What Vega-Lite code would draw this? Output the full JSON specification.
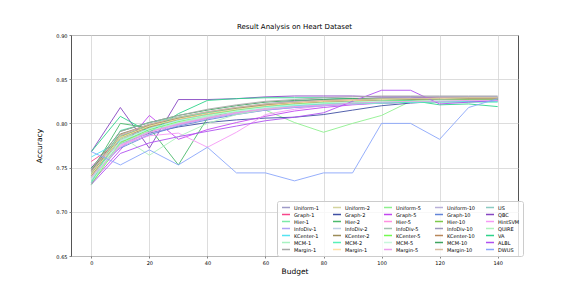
{
"$schema": "https://vega.github.io/schema/vega-lite/v6.json",
"width": 447, "height": 221, "autosize": "none",
"padding": {"left": 71, "top": 35, "right": 58, "bottom": 32},
"background": "white",
"title": {"text": "Result Analysis on Heart Dataset", "fontSize": 7, "font": "DejaVu Sans", "fontWeight": "normal", "offset": 3, "color": "#000"},
"datasets": {"d": [
{"m":"Uniform-1","b":0,"a":0.742},{"m":"Uniform-1","b":10,"a":0.786},{"m":"Uniform-1","b":20,"a":0.797},{"m":"Uniform-1","b":30,"a":0.805},{"m":"Uniform-1","b":40,"a":0.811},{"m":"Uniform-1","b":50,"a":0.816},{"m":"Uniform-1","b":60,"a":0.82},{"m":"Uniform-1","b":70,"a":0.823},{"m":"Uniform-1","b":80,"a":0.825},{"m":"Uniform-1","b":90,"a":0.826},{"m":"Uniform-1","b":100,"a":0.827},{"m":"Uniform-1","b":110,"a":0.828},{"m":"Uniform-1","b":120,"a":0.828},{"m":"Uniform-1","b":130,"a":0.829},{"m":"Uniform-1","b":140,"a":0.829},
{"m":"Uniform-2","b":0,"a":0.739},{"m":"Uniform-2","b":10,"a":0.781},{"m":"Uniform-2","b":20,"a":0.795},{"m":"Uniform-2","b":30,"a":0.803},{"m":"Uniform-2","b":40,"a":0.81},{"m":"Uniform-2","b":50,"a":0.815},{"m":"Uniform-2","b":60,"a":0.819},{"m":"Uniform-2","b":70,"a":0.822},{"m":"Uniform-2","b":80,"a":0.824},{"m":"Uniform-2","b":90,"a":0.825},{"m":"Uniform-2","b":100,"a":0.826},{"m":"Uniform-2","b":110,"a":0.827},{"m":"Uniform-2","b":120,"a":0.827},{"m":"Uniform-2","b":130,"a":0.828},{"m":"Uniform-2","b":140,"a":0.828},
{"m":"Uniform-5","b":0,"a":0.737},{"m":"Uniform-5","b":10,"a":0.783},{"m":"Uniform-5","b":20,"a":0.796},{"m":"Uniform-5","b":30,"a":0.804},{"m":"Uniform-5","b":40,"a":0.809},{"m":"Uniform-5","b":50,"a":0.813},{"m":"Uniform-5","b":60,"a":0.815},{"m":"Uniform-5","b":70,"a":0.801},{"m":"Uniform-5","b":80,"a":0.79},{"m":"Uniform-5","b":90,"a":0.8},{"m":"Uniform-5","b":100,"a":0.809},{"m":"Uniform-5","b":110,"a":0.825},{"m":"Uniform-5","b":120,"a":0.826},{"m":"Uniform-5","b":130,"a":0.826},{"m":"Uniform-5","b":140,"a":0.826},
{"m":"Uniform-10","b":0,"a":0.744},{"m":"Uniform-10","b":10,"a":0.788},{"m":"Uniform-10","b":20,"a":0.799},{"m":"Uniform-10","b":30,"a":0.807},{"m":"Uniform-10","b":40,"a":0.813},{"m":"Uniform-10","b":50,"a":0.818},{"m":"Uniform-10","b":60,"a":0.822},{"m":"Uniform-10","b":70,"a":0.825},{"m":"Uniform-10","b":80,"a":0.827},{"m":"Uniform-10","b":90,"a":0.828},{"m":"Uniform-10","b":100,"a":0.829},{"m":"Uniform-10","b":110,"a":0.829},{"m":"Uniform-10","b":120,"a":0.83},{"m":"Uniform-10","b":130,"a":0.83},{"m":"Uniform-10","b":140,"a":0.83},
{"m":"US","b":0,"a":0.741},{"m":"US","b":10,"a":0.784},{"m":"US","b":20,"a":0.797},{"m":"US","b":30,"a":0.806},{"m":"US","b":40,"a":0.812},{"m":"US","b":50,"a":0.817},{"m":"US","b":60,"a":0.821},{"m":"US","b":70,"a":0.823},{"m":"US","b":80,"a":0.824},{"m":"US","b":90,"a":0.825},{"m":"US","b":100,"a":0.826},{"m":"US","b":110,"a":0.826},{"m":"US","b":120,"a":0.827},{"m":"US","b":130,"a":0.827},{"m":"US","b":140,"a":0.827},
{"m":"Graph-1","b":0,"a":0.757},{"m":"Graph-1","b":10,"a":0.779},{"m":"Graph-1","b":20,"a":0.791},{"m":"Graph-1","b":30,"a":0.799},{"m":"Graph-1","b":40,"a":0.806},{"m":"Graph-1","b":50,"a":0.812},{"m":"Graph-1","b":60,"a":0.816},{"m":"Graph-1","b":70,"a":0.819},{"m":"Graph-1","b":80,"a":0.821},{"m":"Graph-1","b":90,"a":0.822},{"m":"Graph-1","b":100,"a":0.823},{"m":"Graph-1","b":110,"a":0.824},{"m":"Graph-1","b":120,"a":0.825},{"m":"Graph-1","b":130,"a":0.825},{"m":"Graph-1","b":140,"a":0.825},
{"m":"Graph-2","b":0,"a":0.75},{"m":"Graph-2","b":10,"a":0.777},{"m":"Graph-2","b":20,"a":0.789},{"m":"Graph-2","b":30,"a":0.796},{"m":"Graph-2","b":40,"a":0.801},{"m":"Graph-2","b":50,"a":0.804},{"m":"Graph-2","b":60,"a":0.806},{"m":"Graph-2","b":70,"a":0.807},{"m":"Graph-2","b":80,"a":0.81},{"m":"Graph-2","b":90,"a":0.815},{"m":"Graph-2","b":100,"a":0.82},{"m":"Graph-2","b":110,"a":0.823},{"m":"Graph-2","b":120,"a":0.825},{"m":"Graph-2","b":130,"a":0.826},{"m":"Graph-2","b":140,"a":0.827},
{"m":"Graph-5","b":0,"a":0.733},{"m":"Graph-5","b":10,"a":0.77},{"m":"Graph-5","b":20,"a":0.809},{"m":"Graph-5","b":30,"a":0.782},{"m":"Graph-5","b":40,"a":0.793},{"m":"Graph-5","b":50,"a":0.801},{"m":"Graph-5","b":60,"a":0.808},{"m":"Graph-5","b":70,"a":0.814},{"m":"Graph-5","b":80,"a":0.818},{"m":"Graph-5","b":90,"a":0.821},{"m":"Graph-5","b":100,"a":0.823},{"m":"Graph-5","b":110,"a":0.824},{"m":"Graph-5","b":120,"a":0.825},{"m":"Graph-5","b":130,"a":0.825},{"m":"Graph-5","b":140,"a":0.826},
{"m":"Graph-10","b":0,"a":0.748},{"m":"Graph-10","b":10,"a":0.772},{"m":"Graph-10","b":20,"a":0.787},{"m":"Graph-10","b":30,"a":0.797},{"m":"Graph-10","b":40,"a":0.804},{"m":"Graph-10","b":50,"a":0.81},{"m":"Graph-10","b":60,"a":0.815},{"m":"Graph-10","b":70,"a":0.818},{"m":"Graph-10","b":80,"a":0.82},{"m":"Graph-10","b":90,"a":0.822},{"m":"Graph-10","b":100,"a":0.823},{"m":"Graph-10","b":110,"a":0.824},{"m":"Graph-10","b":120,"a":0.825},{"m":"Graph-10","b":130,"a":0.826},{"m":"Graph-10","b":140,"a":0.826},
{"m":"QBC","b":0,"a":0.768},{"m":"QBC","b":10,"a":0.818},{"m":"QBC","b":20,"a":0.772},{"m":"QBC","b":30,"a":0.827},{"m":"QBC","b":40,"a":0.827},{"m":"QBC","b":50,"a":0.828},{"m":"QBC","b":60,"a":0.83},{"m":"QBC","b":70,"a":0.831},{"m":"QBC","b":80,"a":0.831},{"m":"QBC","b":90,"a":0.831},{"m":"QBC","b":100,"a":0.83},{"m":"QBC","b":110,"a":0.83},{"m":"QBC","b":120,"a":0.829},{"m":"QBC","b":130,"a":0.829},{"m":"QBC","b":140,"a":0.829},
{"m":"Hier-1","b":0,"a":0.735},{"m":"Hier-1","b":10,"a":0.779},{"m":"Hier-1","b":20,"a":0.793},{"m":"Hier-1","b":30,"a":0.802},{"m":"Hier-1","b":40,"a":0.809},{"m":"Hier-1","b":50,"a":0.814},{"m":"Hier-1","b":60,"a":0.818},{"m":"Hier-1","b":70,"a":0.821},{"m":"Hier-1","b":80,"a":0.823},{"m":"Hier-1","b":90,"a":0.824},{"m":"Hier-1","b":100,"a":0.825},{"m":"Hier-1","b":110,"a":0.826},{"m":"Hier-1","b":120,"a":0.826},{"m":"Hier-1","b":130,"a":0.827},{"m":"Hier-1","b":140,"a":0.827},
{"m":"Hier-2","b":0,"a":0.745},{"m":"Hier-2","b":10,"a":0.8},{"m":"Hier-2","b":20,"a":0.795},{"m":"Hier-2","b":30,"a":0.753},{"m":"Hier-2","b":40,"a":0.806},{"m":"Hier-2","b":50,"a":0.815},{"m":"Hier-2","b":60,"a":0.82},{"m":"Hier-2","b":70,"a":0.823},{"m":"Hier-2","b":80,"a":0.824},{"m":"Hier-2","b":90,"a":0.825},{"m":"Hier-2","b":100,"a":0.826},{"m":"Hier-2","b":110,"a":0.826},{"m":"Hier-2","b":120,"a":0.827},{"m":"Hier-2","b":130,"a":0.827},{"m":"Hier-2","b":140,"a":0.827},
{"m":"Hier-5","b":0,"a":0.736},{"m":"Hier-5","b":10,"a":0.774},{"m":"Hier-5","b":20,"a":0.79},{"m":"Hier-5","b":30,"a":0.8},{"m":"Hier-5","b":40,"a":0.807},{"m":"Hier-5","b":50,"a":0.812},{"m":"Hier-5","b":60,"a":0.817},{"m":"Hier-5","b":70,"a":0.82},{"m":"Hier-5","b":80,"a":0.822},{"m":"Hier-5","b":90,"a":0.823},{"m":"Hier-5","b":100,"a":0.824},{"m":"Hier-5","b":110,"a":0.825},{"m":"Hier-5","b":120,"a":0.825},{"m":"Hier-5","b":130,"a":0.826},{"m":"Hier-5","b":140,"a":0.826},
{"m":"Hier-10","b":0,"a":0.743},{"m":"Hier-10","b":10,"a":0.785},{"m":"Hier-10","b":20,"a":0.797},{"m":"Hier-10","b":30,"a":0.805},{"m":"Hier-10","b":40,"a":0.811},{"m":"Hier-10","b":50,"a":0.816},{"m":"Hier-10","b":60,"a":0.82},{"m":"Hier-10","b":70,"a":0.822},{"m":"Hier-10","b":80,"a":0.824},{"m":"Hier-10","b":90,"a":0.825},{"m":"Hier-10","b":100,"a":0.826},{"m":"Hier-10","b":110,"a":0.826},{"m":"Hier-10","b":120,"a":0.827},{"m":"Hier-10","b":130,"a":0.827},{"m":"Hier-10","b":140,"a":0.827},
{"m":"HintSVM","b":0,"a":0.752},{"m":"HintSVM","b":10,"a":0.776},{"m":"HintSVM","b":20,"a":0.786},{"m":"HintSVM","b":30,"a":0.789},{"m":"HintSVM","b":40,"a":0.773},{"m":"HintSVM","b":50,"a":0.79},{"m":"HintSVM","b":60,"a":0.81},{"m":"HintSVM","b":70,"a":0.816},{"m":"HintSVM","b":80,"a":0.82},{"m":"HintSVM","b":90,"a":0.822},{"m":"HintSVM","b":100,"a":0.823},{"m":"HintSVM","b":110,"a":0.824},{"m":"HintSVM","b":120,"a":0.824},{"m":"HintSVM","b":130,"a":0.825},{"m":"HintSVM","b":140,"a":0.825},
{"m":"InfoDiv-1","b":0,"a":0.738},{"m":"InfoDiv-1","b":10,"a":0.773},{"m":"InfoDiv-1","b":20,"a":0.788},{"m":"InfoDiv-1","b":30,"a":0.798},{"m":"InfoDiv-1","b":40,"a":0.805},{"m":"InfoDiv-1","b":50,"a":0.811},{"m":"InfoDiv-1","b":60,"a":0.815},{"m":"InfoDiv-1","b":70,"a":0.818},{"m":"InfoDiv-1","b":80,"a":0.82},{"m":"InfoDiv-1","b":90,"a":0.822},{"m":"InfoDiv-1","b":100,"a":0.823},{"m":"InfoDiv-1","b":110,"a":0.824},{"m":"InfoDiv-1","b":120,"a":0.825},{"m":"InfoDiv-1","b":130,"a":0.825},{"m":"InfoDiv-1","b":140,"a":0.826},
{"m":"InfoDiv-2","b":0,"a":0.736},{"m":"InfoDiv-2","b":10,"a":0.776},{"m":"InfoDiv-2","b":20,"a":0.791},{"m":"InfoDiv-2","b":30,"a":0.8},{"m":"InfoDiv-2","b":40,"a":0.807},{"m":"InfoDiv-2","b":50,"a":0.812},{"m":"InfoDiv-2","b":60,"a":0.816},{"m":"InfoDiv-2","b":70,"a":0.819},{"m":"InfoDiv-2","b":80,"a":0.821},{"m":"InfoDiv-2","b":90,"a":0.822},{"m":"InfoDiv-2","b":100,"a":0.823},{"m":"InfoDiv-2","b":110,"a":0.824},{"m":"InfoDiv-2","b":120,"a":0.825},{"m":"InfoDiv-2","b":130,"a":0.825},{"m":"InfoDiv-2","b":140,"a":0.826},
{"m":"InfoDiv-5","b":0,"a":0.74},{"m":"InfoDiv-5","b":10,"a":0.782},{"m":"InfoDiv-5","b":20,"a":0.795},{"m":"InfoDiv-5","b":30,"a":0.804},{"m":"InfoDiv-5","b":40,"a":0.81},{"m":"InfoDiv-5","b":50,"a":0.815},{"m":"InfoDiv-5","b":60,"a":0.819},{"m":"InfoDiv-5","b":70,"a":0.822},{"m":"InfoDiv-5","b":80,"a":0.824},{"m":"InfoDiv-5","b":90,"a":0.825},{"m":"InfoDiv-5","b":100,"a":0.826},{"m":"InfoDiv-5","b":110,"a":0.827},{"m":"InfoDiv-5","b":120,"a":0.827},{"m":"InfoDiv-5","b":130,"a":0.828},{"m":"InfoDiv-5","b":140,"a":0.828},
{"m":"InfoDiv-10","b":0,"a":0.746},{"m":"InfoDiv-10","b":10,"a":0.787},{"m":"InfoDiv-10","b":20,"a":0.799},{"m":"InfoDiv-10","b":30,"a":0.807},{"m":"InfoDiv-10","b":40,"a":0.813},{"m":"InfoDiv-10","b":50,"a":0.818},{"m":"InfoDiv-10","b":60,"a":0.822},{"m":"InfoDiv-10","b":70,"a":0.825},{"m":"InfoDiv-10","b":80,"a":0.827},{"m":"InfoDiv-10","b":90,"a":0.828},{"m":"InfoDiv-10","b":100,"a":0.829},{"m":"InfoDiv-10","b":110,"a":0.83},{"m":"InfoDiv-10","b":120,"a":0.83},{"m":"InfoDiv-10","b":130,"a":0.83},{"m":"InfoDiv-10","b":140,"a":0.83},
{"m":"QUIRE","b":0,"a":0.73},{"m":"QUIRE","b":10,"a":0.786},{"m":"QUIRE","b":20,"a":0.764},{"m":"QUIRE","b":30,"a":0.785},{"m":"QUIRE","b":40,"a":0.8},{"m":"QUIRE","b":50,"a":0.81},{"m":"QUIRE","b":60,"a":0.816},{"m":"QUIRE","b":70,"a":0.82},{"m":"QUIRE","b":80,"a":0.822},{"m":"QUIRE","b":90,"a":0.823},{"m":"QUIRE","b":100,"a":0.824},{"m":"QUIRE","b":110,"a":0.825},{"m":"QUIRE","b":120,"a":0.825},{"m":"QUIRE","b":130,"a":0.826},{"m":"QUIRE","b":140,"a":0.826},
{"m":"KCenter-1","b":0,"a":0.762},{"m":"KCenter-1","b":10,"a":0.78},{"m":"KCenter-1","b":20,"a":0.794},{"m":"KCenter-1","b":30,"a":0.803},{"m":"KCenter-1","b":40,"a":0.809},{"m":"KCenter-1","b":50,"a":0.814},{"m":"KCenter-1","b":60,"a":0.818},{"m":"KCenter-1","b":70,"a":0.82},{"m":"KCenter-1","b":80,"a":0.822},{"m":"KCenter-1","b":90,"a":0.823},{"m":"KCenter-1","b":100,"a":0.824},{"m":"KCenter-1","b":110,"a":0.824},{"m":"KCenter-1","b":120,"a":0.825},{"m":"KCenter-1","b":130,"a":0.825},{"m":"KCenter-1","b":140,"a":0.825},
{"m":"KCenter-2","b":0,"a":0.747},{"m":"KCenter-2","b":10,"a":0.788},{"m":"KCenter-2","b":20,"a":0.798},{"m":"KCenter-2","b":30,"a":0.806},{"m":"KCenter-2","b":40,"a":0.812},{"m":"KCenter-2","b":50,"a":0.817},{"m":"KCenter-2","b":60,"a":0.821},{"m":"KCenter-2","b":70,"a":0.823},{"m":"KCenter-2","b":80,"a":0.825},{"m":"KCenter-2","b":90,"a":0.826},{"m":"KCenter-2","b":100,"a":0.827},{"m":"KCenter-2","b":110,"a":0.827},{"m":"KCenter-2","b":120,"a":0.828},{"m":"KCenter-2","b":130,"a":0.828},{"m":"KCenter-2","b":140,"a":0.828},
{"m":"KCenter-5","b":0,"a":0.731},{"m":"KCenter-5","b":10,"a":0.778},{"m":"KCenter-5","b":20,"a":0.793},{"m":"KCenter-5","b":30,"a":0.802},{"m":"KCenter-5","b":40,"a":0.809},{"m":"KCenter-5","b":50,"a":0.815},{"m":"KCenter-5","b":60,"a":0.819},{"m":"KCenter-5","b":70,"a":0.822},{"m":"KCenter-5","b":80,"a":0.823},{"m":"KCenter-5","b":90,"a":0.824},{"m":"KCenter-5","b":100,"a":0.825},{"m":"KCenter-5","b":110,"a":0.826},{"m":"KCenter-5","b":120,"a":0.826},{"m":"KCenter-5","b":130,"a":0.826},{"m":"KCenter-5","b":140,"a":0.826},
{"m":"KCenter-10","b":0,"a":0.741},{"m":"KCenter-10","b":10,"a":0.784},{"m":"KCenter-10","b":20,"a":0.796},{"m":"KCenter-10","b":30,"a":0.805},{"m":"KCenter-10","b":40,"a":0.811},{"m":"KCenter-10","b":50,"a":0.816},{"m":"KCenter-10","b":60,"a":0.82},{"m":"KCenter-10","b":70,"a":0.823},{"m":"KCenter-10","b":80,"a":0.825},{"m":"KCenter-10","b":90,"a":0.826},{"m":"KCenter-10","b":100,"a":0.827},{"m":"KCenter-10","b":110,"a":0.828},{"m":"KCenter-10","b":120,"a":0.828},{"m":"KCenter-10","b":130,"a":0.828},{"m":"KCenter-10","b":140,"a":0.828},
{"m":"VA","b":0,"a":0.768},{"m":"VA","b":10,"a":0.808},{"m":"VA","b":20,"a":0.79},{"m":"VA","b":30,"a":0.811},{"m":"VA","b":40,"a":0.826},{"m":"VA","b":50,"a":0.828},{"m":"VA","b":60,"a":0.829},{"m":"VA","b":70,"a":0.829},{"m":"VA","b":80,"a":0.829},{"m":"VA","b":90,"a":0.828},{"m":"VA","b":100,"a":0.827},{"m":"VA","b":110,"a":0.826},{"m":"VA","b":120,"a":0.821},{"m":"VA","b":130,"a":0.822},{"m":"VA","b":140,"a":0.819},
{"m":"MCM-1","b":0,"a":0.734},{"m":"MCM-1","b":10,"a":0.777},{"m":"MCM-1","b":20,"a":0.792},{"m":"MCM-1","b":30,"a":0.801},{"m":"MCM-1","b":40,"a":0.808},{"m":"MCM-1","b":50,"a":0.814},{"m":"MCM-1","b":60,"a":0.818},{"m":"MCM-1","b":70,"a":0.821},{"m":"MCM-1","b":80,"a":0.823},{"m":"MCM-1","b":90,"a":0.824},{"m":"MCM-1","b":100,"a":0.825},{"m":"MCM-1","b":110,"a":0.825},{"m":"MCM-1","b":120,"a":0.826},{"m":"MCM-1","b":130,"a":0.826},{"m":"MCM-1","b":140,"a":0.826},
{"m":"MCM-2","b":0,"a":0.733},{"m":"MCM-2","b":10,"a":0.792},{"m":"MCM-2","b":20,"a":0.801},{"m":"MCM-2","b":30,"a":0.807},{"m":"MCM-2","b":40,"a":0.812},{"m":"MCM-2","b":50,"a":0.816},{"m":"MCM-2","b":60,"a":0.819},{"m":"MCM-2","b":70,"a":0.821},{"m":"MCM-2","b":80,"a":0.822},{"m":"MCM-2","b":90,"a":0.823},{"m":"MCM-2","b":100,"a":0.823},{"m":"MCM-2","b":110,"a":0.824},{"m":"MCM-2","b":120,"a":0.824},{"m":"MCM-2","b":130,"a":0.824},{"m":"MCM-2","b":140,"a":0.824},
{"m":"MCM-5","b":0,"a":0.737},{"m":"MCM-5","b":10,"a":0.78},{"m":"MCM-5","b":20,"a":0.794},{"m":"MCM-5","b":30,"a":0.803},{"m":"MCM-5","b":40,"a":0.809},{"m":"MCM-5","b":50,"a":0.814},{"m":"MCM-5","b":60,"a":0.818},{"m":"MCM-5","b":70,"a":0.821},{"m":"MCM-5","b":80,"a":0.823},{"m":"MCM-5","b":90,"a":0.824},{"m":"MCM-5","b":100,"a":0.825},{"m":"MCM-5","b":110,"a":0.825},{"m":"MCM-5","b":120,"a":0.826},{"m":"MCM-5","b":130,"a":0.826},{"m":"MCM-5","b":140,"a":0.826},
{"m":"MCM-10","b":0,"a":0.749},{"m":"MCM-10","b":10,"a":0.791},{"m":"MCM-10","b":20,"a":0.801},{"m":"MCM-10","b":30,"a":0.809},{"m":"MCM-10","b":40,"a":0.815},{"m":"MCM-10","b":50,"a":0.82},{"m":"MCM-10","b":60,"a":0.824},{"m":"MCM-10","b":70,"a":0.826},{"m":"MCM-10","b":80,"a":0.827},{"m":"MCM-10","b":90,"a":0.828},{"m":"MCM-10","b":100,"a":0.828},{"m":"MCM-10","b":110,"a":0.828},{"m":"MCM-10","b":120,"a":0.828},{"m":"MCM-10","b":130,"a":0.829},{"m":"MCM-10","b":140,"a":0.829},
{"m":"ALBL","b":0,"a":0.731},{"m":"ALBL","b":10,"a":0.766},{"m":"ALBL","b":20,"a":0.778},{"m":"ALBL","b":30,"a":0.785},{"m":"ALBL","b":40,"a":0.791},{"m":"ALBL","b":50,"a":0.797},{"m":"ALBL","b":60,"a":0.803},{"m":"ALBL","b":70,"a":0.807},{"m":"ALBL","b":80,"a":0.812},{"m":"ALBL","b":90,"a":0.825},{"m":"ALBL","b":100,"a":0.8375},{"m":"ALBL","b":110,"a":0.8375},{"m":"ALBL","b":120,"a":0.822},{"m":"ALBL","b":130,"a":0.824},{"m":"ALBL","b":140,"a":0.826},
{"m":"Margin-1","b":0,"a":0.748},{"m":"Margin-1","b":10,"a":0.791},{"m":"Margin-1","b":20,"a":0.801},{"m":"Margin-1","b":30,"a":0.809},{"m":"Margin-1","b":40,"a":0.816},{"m":"Margin-1","b":50,"a":0.821},{"m":"Margin-1","b":60,"a":0.825},{"m":"Margin-1","b":70,"a":0.827},{"m":"Margin-1","b":80,"a":0.829},{"m":"Margin-1","b":90,"a":0.83},{"m":"Margin-1","b":100,"a":0.831},{"m":"Margin-1","b":110,"a":0.831},{"m":"Margin-1","b":120,"a":0.831},{"m":"Margin-1","b":130,"a":0.831},{"m":"Margin-1","b":140,"a":0.831},
{"m":"Margin-2","b":0,"a":0.742},{"m":"Margin-2","b":10,"a":0.784},{"m":"Margin-2","b":20,"a":0.797},{"m":"Margin-2","b":30,"a":0.805},{"m":"Margin-2","b":40,"a":0.811},{"m":"Margin-2","b":50,"a":0.816},{"m":"Margin-2","b":60,"a":0.82},{"m":"Margin-2","b":70,"a":0.823},{"m":"Margin-2","b":80,"a":0.825},{"m":"Margin-2","b":90,"a":0.826},{"m":"Margin-2","b":100,"a":0.827},{"m":"Margin-2","b":110,"a":0.828},{"m":"Margin-2","b":120,"a":0.828},{"m":"Margin-2","b":130,"a":0.829},{"m":"Margin-2","b":140,"a":0.829},
{"m":"Margin-5","b":0,"a":0.739},{"m":"Margin-5","b":10,"a":0.775},{"m":"Margin-5","b":20,"a":0.79},{"m":"Margin-5","b":30,"a":0.799},{"m":"Margin-5","b":40,"a":0.806},{"m":"Margin-5","b":50,"a":0.812},{"m":"Margin-5","b":60,"a":0.816},{"m":"Margin-5","b":70,"a":0.819},{"m":"Margin-5","b":80,"a":0.821},{"m":"Margin-5","b":90,"a":0.823},{"m":"Margin-5","b":100,"a":0.824},{"m":"Margin-5","b":110,"a":0.825},{"m":"Margin-5","b":120,"a":0.825},{"m":"Margin-5","b":130,"a":0.826},{"m":"Margin-5","b":140,"a":0.826},
{"m":"Margin-10","b":0,"a":0.745},{"m":"Margin-10","b":10,"a":0.787},{"m":"Margin-10","b":20,"a":0.799},{"m":"Margin-10","b":30,"a":0.807},{"m":"Margin-10","b":40,"a":0.813},{"m":"Margin-10","b":50,"a":0.818},{"m":"Margin-10","b":60,"a":0.822},{"m":"Margin-10","b":70,"a":0.824},{"m":"Margin-10","b":80,"a":0.826},{"m":"Margin-10","b":90,"a":0.827},{"m":"Margin-10","b":100,"a":0.828},{"m":"Margin-10","b":110,"a":0.828},{"m":"Margin-10","b":120,"a":0.829},{"m":"Margin-10","b":130,"a":0.829},{"m":"Margin-10","b":140,"a":0.829},
{"m":"DWUS","b":0,"a":0.768},{"m":"DWUS","b":10,"a":0.753},{"m":"DWUS","b":20,"a":0.77},{"m":"DWUS","b":30,"a":0.753},{"m":"DWUS","b":40,"a":0.773},{"m":"DWUS","b":50,"a":0.744},{"m":"DWUS","b":60,"a":0.744},{"m":"DWUS","b":70,"a":0.735},{"m":"DWUS","b":80,"a":0.744},{"m":"DWUS","b":90,"a":0.744},{"m":"DWUS","b":100,"a":0.8},{"m":"DWUS","b":110,"a":0.8},{"m":"DWUS","b":120,"a":0.782},{"m":"DWUS","b":130,"a":0.818},{"m":"DWUS","b":140,"a":0.828}
]},
"data": {"name": "d"},
"mark": {"type": "line", "strokeWidth": 0.9, "clip": true},
"encoding": {
  "x": {"field": "b", "type": "quantitative", "scale": {"domain": [-7, 147], "nice": false, "zero": false},
        "axis": {"values": [0,20,40,60,80,100,120,140], "title": "Budget", "titlePadding": 2, "labelPadding": 2}},
  "y": {"field": "a", "type": "quantitative", "scale": {"domain": [0.65, 0.9], "nice": false, "zero": false},
        "axis": {"values": [0.65,0.7,0.75,0.8,0.85,0.9], "format": ".2f", "title": "Accuracy", "titlePadding": 12, "labelPadding": 2}},
  "color": {"field": "m", "type": "nominal",
    "scale": {
      "domain": ["Uniform-1","Graph-1","Hier-1","InfoDiv-1","KCenter-1","MCM-1","Margin-1","Uniform-2","Graph-2","Hier-2","InfoDiv-2","KCenter-2","MCM-2","Margin-2","Uniform-5","Graph-5","Hier-5","InfoDiv-5","KCenter-5","MCM-5","Margin-5","Uniform-10","Graph-10","Hier-10","InfoDiv-10","KCenter-10","MCM-10","Margin-10","US","QBC","HintSVM","QUIRE","VA","ALBL","DWUS"],
      "range": ["#9e9ac8","#f7468a","#7ceaa8","#b0a2f5","#55e4f2","#a8f2c2","#a8a8a8","#d4d49e","#3f4fa3","#4cba6c","#c0cfe6","#9c8c58","#58f0b8","#ffe0a8","#8ef08e","#c247f0","#ff90e0","#a2c2b0","#74fa50","#c8f8dc","#eb9eec","#b8b0d8","#6384d8","#7dc94a","#9e98bc","#b8875a","#3fa460","#d8bca0","#8ccbc2","#8645c2","#f59af5","#aef2bc","#2ed48a","#b050f0","#8aa6fa"]
    },
    "legend": {"orient": "none", "legendX": 206, "legendY": 166, "columns": 5, "title": null, "symbolLimit": 0,
      "symbolType": "stroke", "symbolSize": 64, "symbolStrokeWidth": 1.5, "symbolOffset": 1,
      "labelFontSize": 5, "labelFont": "DejaVu Sans", "labelColor": "#000", "labelOffset": 3, "labelLimit": 60,
      "rowPadding": 0, "columnPadding": 8, "clipHeight": 7, "gridAlign": "all",
      "padding": 3, "fillColor": "rgba(255,255,255,0.8)", "strokeColor": "#cccccc", "cornerRadius": 2,
      "labelExpr": "datum.label == 'Margin-2' ? 'Margin-1' : datum.label"}
  }
},
"config": {
  "view": {"stroke": "#555555", "strokeWidth": 1},
  "axis": {"labelFont": "DejaVu Sans", "labelFontSize": 5, "labelColor": "#000", "titleFont": "DejaVu Sans", "titleFontSize": 7.5, "titleFontWeight": "normal", "titleColor": "#000",
           "tickSize": 2, "tickColor": "#333", "tickWidth": 0.6, "gridColor": "#d4d4d4", "gridWidth": 0.8, "domain": false}
}
}
